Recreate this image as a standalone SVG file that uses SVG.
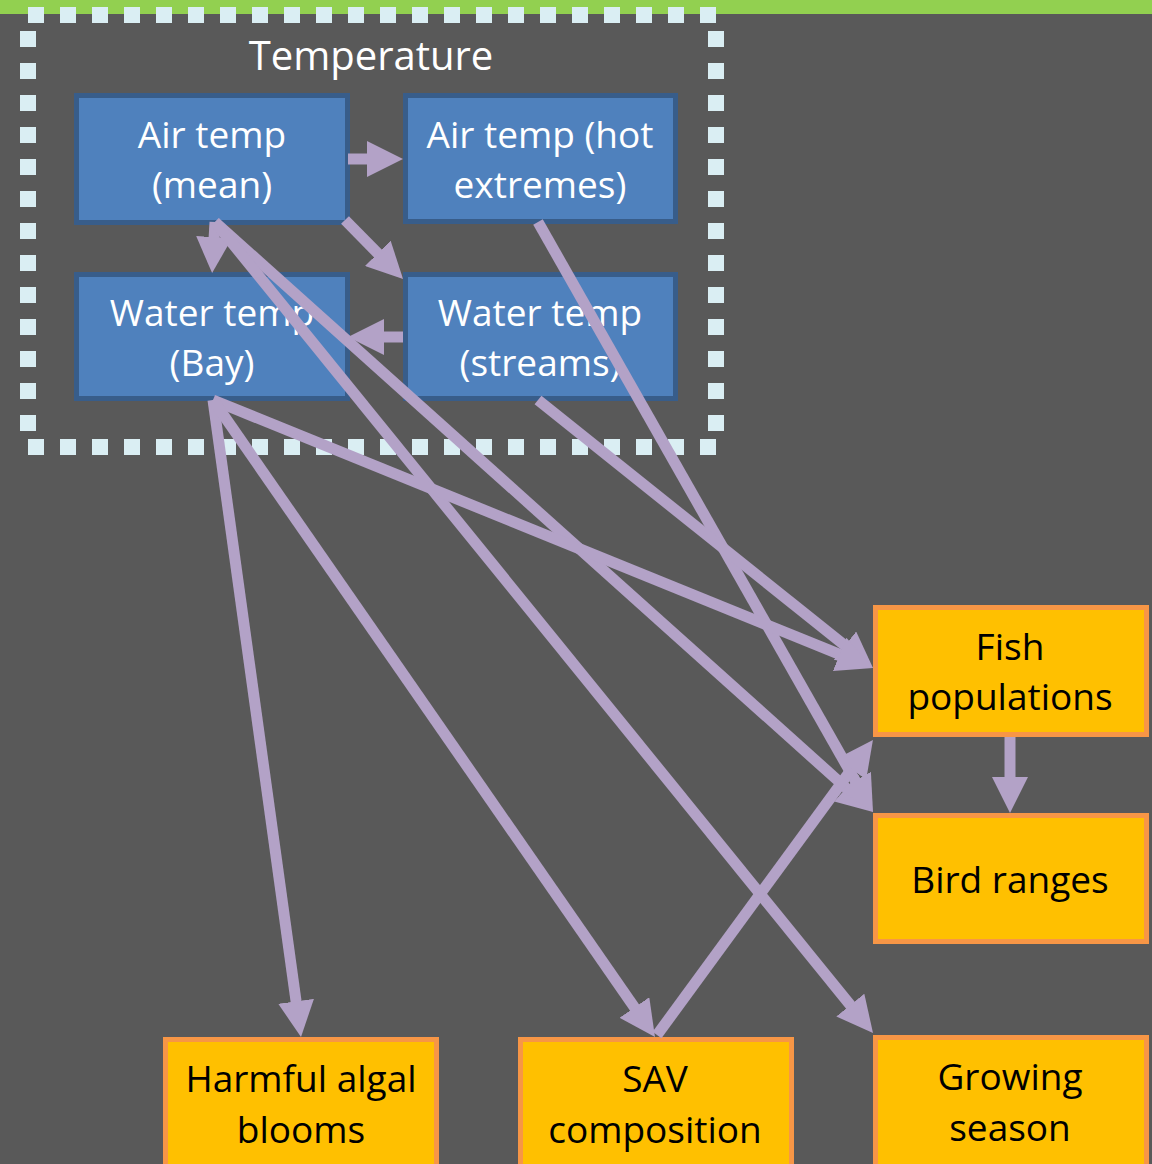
<svg xmlns="http://www.w3.org/2000/svg" width="1152" height="1164" viewBox="0 0 1152 1164">
<style>
.bg{fill:#595959}
.blue rect{fill:#4F81BD;stroke:#385D8A;stroke-width:5}
.blue text{fill:#FFFFFF}
.org rect{fill:#FFC000;stroke:#F79646;stroke-width:5}
.org text{fill:#000000}
text{font-family:"Open Sans","Liberation Sans",sans-serif;font-size:37px;text-anchor:middle}
.conn line{stroke:#B3A2C7;stroke-width:11;marker-end:url(#ah);fill:none}
</style>
<defs>
<marker id="ah" markerUnits="userSpaceOnUse" markerWidth="36" markerHeight="36" viewBox="0 0 36 36" refX="6" refY="18" orient="auto">
<path d="M0,0 L36,18 L0,36 z" fill="#B3A2C7"/>
</marker>
</defs>
<rect class="bg" x="0" y="0" width="1152" height="1164"/>
<rect x="0" y="0" width="1152" height="14" fill="#92D050"/>
<g id="temperature-group">
<rect x="28" y="15" width="688" height="432" fill="none" stroke="#DAEEF3" stroke-width="16" stroke-dasharray="16 16"/>
<text x="371" y="70" fill="#FFFFFF" style="font-size:40px">Temperature</text>
</g>
<g id="air-mean" class="blue"><rect x="76.5" y="95.5" width="271" height="127"/><text x="212" y="148">Air temp</text><text x="212" y="198">(mean)</text></g>
<g id="air-hot" class="blue"><rect x="405.5" y="95.5" width="270" height="126"/><text x="540" y="148">Air temp (hot</text><text x="540" y="198">extremes)</text></g>
<g id="water-bay" class="blue"><rect x="76.5" y="274.5" width="271" height="124"/><text x="212" y="326">Water temp</text><text x="212" y="376">(Bay)</text></g>
<g id="water-streams" class="blue"><rect x="405.5" y="274.5" width="270" height="124"/><text x="540" y="326">Water temp</text><text x="540" y="376">(streams)</text></g>
<g id="fish" class="org"><rect x="875.5" y="607.5" width="271" height="127"/><text x="1010" y="660">Fish</text><text x="1010" y="710">populations</text></g>
<g id="bird" class="org"><rect x="875.5" y="815.5" width="271" height="126"/><text x="1010" y="893">Bird ranges</text></g>
<g id="hab" class="org"><rect x="165.5" y="1039.5" width="271" height="140"/><text x="301" y="1092">Harmful algal</text><text x="301" y="1143">blooms</text></g>
<g id="sav" class="org"><rect x="520.5" y="1039.5" width="271" height="140"/><text x="655" y="1092">SAV</text><text x="655" y="1143">composition</text></g>
<g id="growing" class="org"><rect x="875.5" y="1037.5" width="271" height="140"/><text x="1010" y="1090">Growing</text><text x="1010" y="1141">season</text></g>
<g id="connectors" class="conn">
<line x1="348" y1="159" x2="373" y2="159"/>
<line x1="345" y1="220" x2="382" y2="257.6"/>
<line x1="403" y1="337" x2="378" y2="337"/>
<line x1="215" y1="222" x2="213.8" y2="243.1"/>
<line x1="215" y1="222" x2="850.7" y2="792"/>
<line x1="215" y1="222" x2="854.1" y2="1009.7"/>
<line x1="538" y1="222" x2="858.2" y2="785.9"/>
<line x1="538" y1="400" x2="849.6" y2="649.3"/>
<line x1="213" y1="400" x2="845.2" y2="656.7"/>
<line x1="213" y1="400" x2="296.9" y2="1007.3"/>
<line x1="213" y1="400" x2="637.9" y2="1012.4"/>
<line x1="657" y1="1035" x2="855.2" y2="764.2"/>
<line x1="1010" y1="737" x2="1010" y2="783"/>
</g>
</svg>
